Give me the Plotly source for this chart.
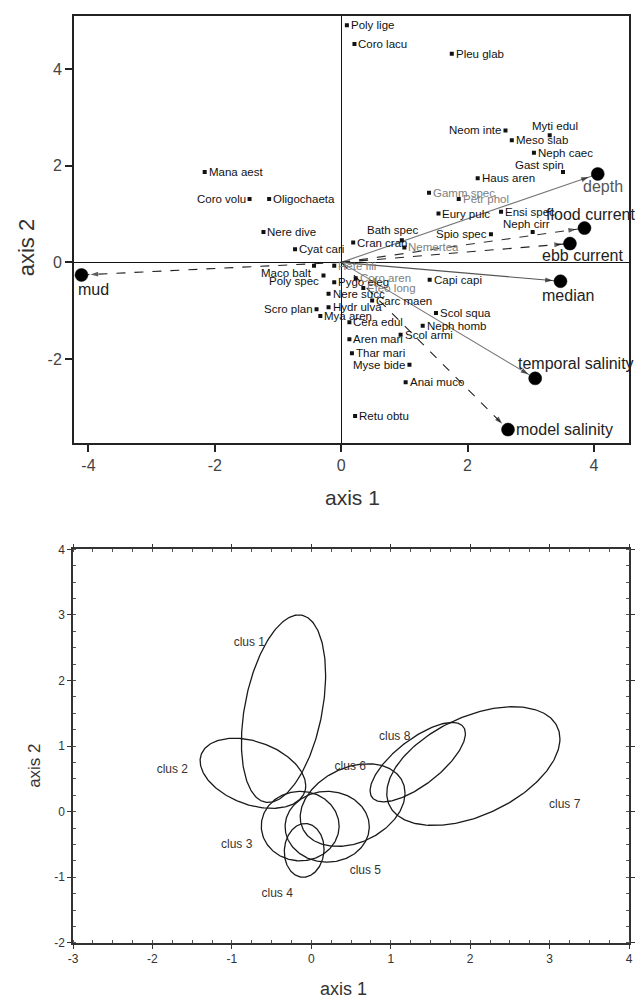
import numpy as np
import plotly.graph_objects as go

# ---------------- ordination: species scores ----------------
species = ["Poly lige", "Coro lacu", "Pleu glab", "Neom inte", "Myti edul", "Meso slab",
           "Neph caec", "Gast spin", "Haus aren", "Gamm spec", "Petr phol", "Eury pulc",
           "Ensi spec", "Neph cirr", "Spio spec", "Bath spec", "Cran cran", "Nemertea",
           "Cyat cari", "Nere dive", "Mana aest", "Coro volu", "Oligochaeta", "Maco balt",
           "Poly spec", "Hete fili", "Pygo eleg", "Coro aren", "Eteo long", "Nere succ",
           "Carc maen", "Capi capi", "Hydr ulva", "Mya aren", "Scro plan", "Cera edul",
           "Scol squa", "Neph homb", "Scol armi", "Aren mari", "Thar mari", "Myse bide",
           "Anai muco", "Retu obtu"]
species_ax1 = [0.09, 0.21, 1.75, 2.60, 3.30, 2.70,
               3.05, 3.51, 2.16, 1.39, 1.86, 1.54,
               2.53, 3.03, 2.37, 0.96, 0.19, 1.00,
               -0.73, -1.23, -2.16, -1.45, -1.14, -0.43,
               -0.28, -0.11, -0.11, 0.23, 0.35, -0.20,
               0.49, 1.40, -0.20, -0.33, -0.39, 0.13,
               1.50, 1.29, 0.94, 0.13, 0.17, 1.08,
               1.02, 0.22]
species_ax2 = [4.91, 4.52, 4.32, 2.73, 2.63, 2.53,
               2.27, 1.87, 1.74, 1.44, 1.31, 1.01,
               1.05, 0.63, 0.58, 0.46, 0.41, 0.31,
               0.27, 0.63, 1.87, 1.31, 1.31, -0.07,
               -0.27, -0.07, -0.41, -0.33, -0.53, -0.65,
               -0.79, -0.36, -0.93, -1.11, -0.97, -1.24,
               -1.05, -1.31, -1.50, -1.59, -1.88, -2.12,
               -2.48, -3.18]

# ---------------- ordination: environmental vectors ----------------
env_vars = ["mud", "depth", "flood current", "ebb current", "median",
            "temporal salinity", "model salinity"]
env_ax1 = [-4.11, 4.06, 3.85, 3.62, 3.47, 3.07, 2.64]
env_ax2 = [-0.26, 1.83, 0.71, 0.39, -0.39, -2.40, -3.46]

# ---------------- cluster ellipses (centre, half-extent, correlation) ----------------
clusters = ["clus 1", "clus 2", "clus 3", "clus 4", "clus 5", "clus 6", "clus 7", "clus 8"]
clus_cx = [-0.35, -0.735, -0.14, -0.09, 0.20, 0.52, 2.04, 1.34]
clus_cy = [1.57, 0.585, -0.22, -0.59, -0.23, 0.10, 0.695, 0.755]
clus_wx = [0.53, 0.665, 0.49, 0.25, 0.53, 0.66, 1.09, 0.60]
clus_wy = [1.43, 0.535, 0.53, 0.41, 0.54, 0.63, 0.905, 0.605]
clus_r = [0.36, -0.354, 0.0, 0.05, 0.0, 0.29, 0.46, 0.72]
clus_label_x = [-0.78, -1.75, -0.94, -0.43, 0.68, 0.49, 3.19, 1.05]
clus_label_y = [2.57, 0.63, -0.51, -1.26, -0.91, 0.685, 0.10, 1.135]

top_ticks = [-4, -2, 0, 2, 4]
top_yticks = [-2, 0, 2, 4]
bot_xticks = [-3, -2, -1, 0, 1, 2, 3, 4]
bot_yticks = [-2, -1, 0, 1, 2, 3, 4]

# ---------------- styling ----------------
FONT = "Liberation Sans, Arial, sans-serif"
W, H = 635, 1007
GREY_LABELS = {"Gamm spec", "Petr phol", "Nemertea", "Hete fili", "Coro aren", "Eteo long"}
# label placement: (xanchor, yanchor, xshift, yshift) in px; default is to the right
LABEL_PLACE = {
    "Neom inte": ("right", "middle", -3, 0), "Coro volu": ("right", "middle", -3, 0),
    "Spio spec": ("right", "middle", -3, 0), "Scro plan": ("right", "middle", -3, 0),
    "Myse bide": ("right", "middle", -3, 0), "Poly spec": ("right", "middle", -3, -6),
    "Maco balt": ("right", "middle", -1, -7),
    "Myti edul": ("center", "middle", 5, 9), "Neph cirr": ("center", "middle", -6, 8),
    "Bath spec": ("center", "middle", -9, 10), "Gast spin": ("right", "middle", 2, 7),
}
DEFAULT_PLACE = ("left", "middle", 3, 0)
# line style, label colour, label offset (px) for each vector
VEC_STYLE = {
    "mud": dict(color="#222", dash="dash", tcol="#222", dx=12, dy=-15),
    "depth": dict(color="#777", dash="solid", tcol="#555", dx=5, dy=-13),
    "flood current": dict(color="#333", dash="dash", tcol="#222", dx=6, dy=14),
    "ebb current": dict(color="#222", dash="dash", tcol="#222", dx=13, dy=-12),
    "median": dict(color="#555", dash="solid", tcol="#222", dx=8, dy=-14),
    "temporal salinity": dict(color="#777", dash="solid", tcol="#222", dx=41, dy=15),
    "model salinity": dict(color="#222", dash="dash", tcol="#222", dx=56, dy=0),
}


def px_x(p):
    return p / W


def px_y(p):
    return 1 - p / H


fig = go.Figure()

# environmental vectors: shaft with arrow head
for name, vx, vy in zip(env_vars, env_ax1, env_ax2):
    st = VEC_STYLE[name]
    f = 0.965
    fig.add_trace(go.Scatter(
        x=[0, vx * f, vx], y=[0, vy * f, vy], mode="lines+markers",
        line=dict(color=st["color"], width=1.1, dash=st["dash"]),
        marker=dict(symbol=["circle", "arrow", "circle"], size=[0, 8, 0],
                    color="#1a1a1a", angleref="previous", line=dict(width=0)),
        xaxis="x", yaxis="y", showlegend=False, hoverinfo="skip"))
    fig.add_annotation(x=vx, y=vy, xref="x", yref="y", text=name, showarrow=False,
                       xshift=st["dx"], yshift=st["dy"], xanchor="center", yanchor="middle",
                       font=dict(family=FONT, size=16, color=st["tcol"]))

# vector end points
fig.add_trace(go.Scatter(
    x=env_ax1, y=env_ax2, mode="markers",
    marker=dict(symbol="circle", size=13, color="black", opacity=1,
                line=dict(width=0.5, color="black")),
    xaxis="x", yaxis="y", showlegend=False, hoverinfo="skip"))

# species scores
fig.add_trace(go.Scatter(
    x=species_ax1, y=species_ax2, mode="markers",
    marker=dict(symbol="square", size=4, color="#111"),
    xaxis="x", yaxis="y", showlegend=False, hoverinfo="skip"))
for name, sx, sy in zip(species, species_ax1, species_ax2):
    xa, ya, dx, dy = LABEL_PLACE.get(name, DEFAULT_PLACE)
    fig.add_annotation(x=sx, y=sy, xref="x", yref="y", text=name, showarrow=False,
                       xanchor=xa, yanchor=ya, xshift=dx, yshift=dy, borderpad=0,
                       font=dict(family=FONT, size=11.5,
                                 color="#808080" if name in GREY_LABELS else "#111"))

# cluster ellipses
t = np.linspace(0, 2 * np.pi, 241)
for cx, cy, wx, wy, r in zip(clus_cx, clus_cy, clus_wx, clus_wy, clus_r):
    ex = cx + wx * np.cos(t)
    ey = cy + r * wy * np.cos(t) + wy * np.sqrt(1 - r * r) * np.sin(t)
    fig.add_trace(go.Scatter(x=ex, y=ey, mode="lines", line=dict(color="#1a1a1a", width=1.3),
                             xaxis="x2", yaxis="y2", showlegend=False, hoverinfo="skip"))
fig.add_trace(go.Scatter(x=clus_label_x, y=clus_label_y, mode="text", text=clusters,
                         textfont=dict(family=FONT, size=12, color="#333"),
                         xaxis="x2", yaxis="y2", showlegend=False, hoverinfo="skip"))

# axis titles
for txt, x, y, size, ang in [("axis 1", 352, 497, 21, 0), ("axis 2", 22, 244, 22, -90),
                             ("axis 1", 343, 996, 18, 0), ("axis 2", 30, 770, 17, -90)]:
    fig.add_annotation(x=px_x(x), y=px_y(y), xref="paper", yref="paper", text=txt,
                       showarrow=False, textangle=ang, xanchor="center", yanchor="middle",
                       font=dict(family=FONT, size=size, color="#333"))


def lab(v):
    return str(v)


fig.update_layout(
    width=W, height=H, margin=dict(l=0, r=0, t=0, b=0),
    paper_bgcolor="white", plot_bgcolor="white",
    xaxis=dict(domain=[px_x(70), px_x(633)], range=[-4.228, 4.555], anchor="y",
               tickvals=top_ticks, ticktext=[lab(v) for v in top_ticks],
               ticks="outside", ticklen=7, tickwidth=1.5, tickcolor="#222",
               showline=True, linecolor="#222", linewidth=2, mirror=True,
               showgrid=False, zeroline=True, zerolinecolor="#111", zerolinewidth=1,
               tickfont=dict(family=FONT, size=16, color="#444")),
    yaxis=dict(domain=[px_y(442), px_y(9)], range=[-3.735, 5.102], anchor="x",
               tickvals=top_yticks, ticktext=[lab(v) for v in top_yticks],
               ticks="outside", ticklen=7, tickwidth=1.5, tickcolor="#222",
               showline=True, linecolor="#222", linewidth=2, mirror=True,
               showgrid=False, zeroline=True, zerolinecolor="#111", zerolinewidth=1,
               tickfont=dict(family=FONT, size=16, color="#444")),
    xaxis2=dict(domain=[px_x(69), px_x(633)], range=[-3, 4], anchor="y2",
                tickvals=bot_xticks, ticktext=[lab(v) for v in bot_xticks],
                ticks="outside", ticklen=4, tickwidth=1, tickcolor="#333",
                minor=dict(ticks="inside", dtick=0.25, ticklen=3, tickcolor="#555"),
                showline=True, linecolor="#333", linewidth=1.5, mirror="allticks",
                showgrid=False, zeroline=False,
                tickfont=dict(family=FONT, size=12, color="#333")),
    yaxis2=dict(domain=[px_y(949), px_y(550)], range=[-2, 4], anchor="x2",
                tickvals=bot_yticks, ticktext=[lab(v) for v in bot_yticks],
                ticks="outside", ticklen=4, tickwidth=1, tickcolor="#333",
                minor=dict(ticks="inside", dtick=0.25, ticklen=3, tickcolor="#555"),
                showline=True, linecolor="#333", linewidth=1.5, mirror="allticks",
                showgrid=False, zeroline=False,
                tickfont=dict(family=FONT, size=12, color="#333")),
)

fig.write_html("out.html")
